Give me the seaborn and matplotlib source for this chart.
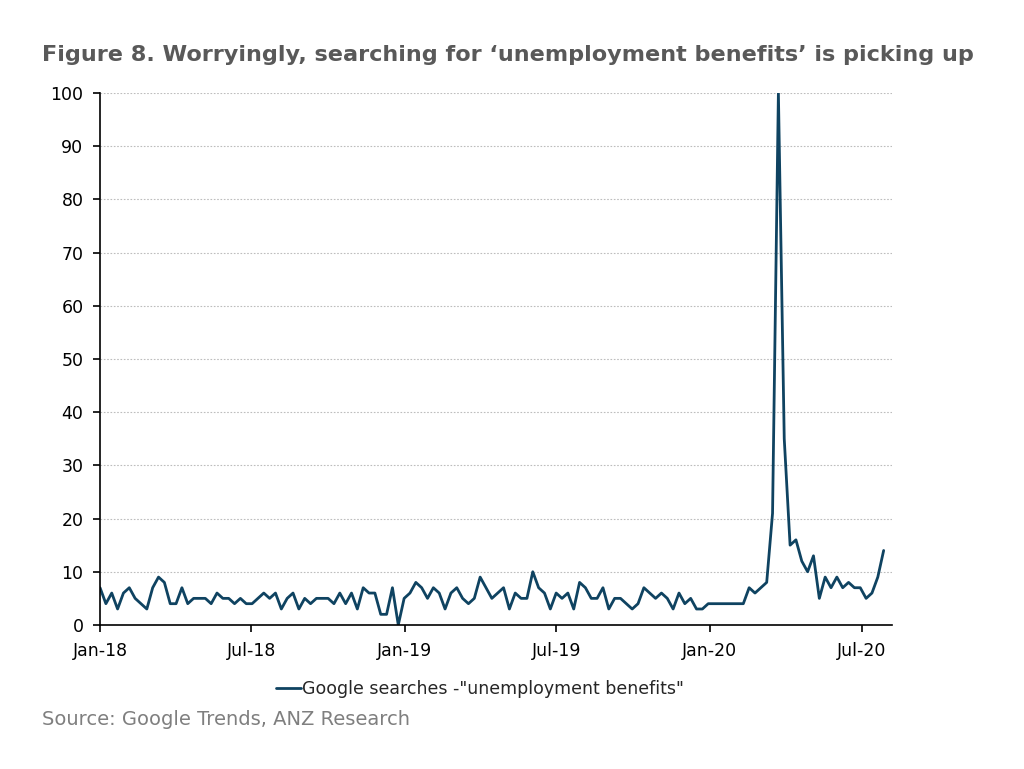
import pandas as pd
import numpy as np
import matplotlib
matplotlib.use("Agg")
import matplotlib.pyplot as plt
import seaborn as sns

# weekly Google Trends index, first week of Jan 2018 onwards
start_date = "2018-01-01"
searches_2018 = [7, 4, 6, 3, 6, 7, 5, 4, 3, 7, 9, 8, 4, 4, 7, 4, 5, 5, 5, 4,
                 6, 5, 5, 4, 5, 4, 4, 5, 6, 5, 6, 3, 5, 6, 3, 5, 4, 5, 5, 5,
                 4, 6, 4, 6, 3, 7, 6, 6, 2, 2, 7, 0]
searches_2019 = [5, 6, 8, 7, 5, 7, 6, 3, 6, 7, 5, 4, 5, 9, 7, 5, 6, 7, 3, 6,
                 5, 5, 10, 7, 6, 3, 6, 5, 6, 3, 8, 7, 5, 5, 7, 3, 5, 5, 4, 3,
                 4, 7, 6, 5, 6, 5, 3, 6, 4, 5, 3, 3]
searches_2020 = [4, 4, 4, 4, 4, 4, 4, 7, 6, 7, 8, 21, 100, 35, 15, 16, 12, 10,
                 13, 5, 9, 7, 9, 7, 8, 7, 7, 5, 6, 9, 14]

values = searches_2018 + searches_2019 + searches_2020
dates = pd.date_range(start_date, periods=len(values), freq="7D")
df = pd.DataFrame({"Date": dates, "Searches": values})

series_label = 'Google searches -"unemployment benefits"'
title = "Figure 8. Worryingly, searching for \u2018unemployment benefits\u2019 is picking up"
source = "Source: Google Trends, ANZ Research"
tick_dates = pd.to_datetime(["2018-01-01", "2018-07-01", "2019-01-01",
                             "2019-07-01", "2020-01-01", "2020-07-01"])
tick_labels = ["Jan-18", "Jul-18", "Jan-19", "Jul-19", "Jan-20", "Jul-20"]

sns.set_theme(style="white")
plt.rcParams["font.family"] = ["DejaVu Sans"]

fig = plt.figure(figsize=(10.24, 7.69), dpi=100)
ax = fig.add_axes([0.0977, 0.1873, 0.7734, 0.6918])

sns.lineplot(data=df, x="Date", y="Searches", ax=ax, color="#0f4361",
             linewidth=2.0, label=series_label)

ax.set_xlim(pd.Timestamp("2018-01-01"), pd.Timestamp("2020-08-06"))
ax.set_ylim(0, 100)
ax.set_yticks(range(0, 101, 10))
ax.set_xticks(tick_dates)
ax.set_xticklabels(tick_labels)
ax.set_xlabel("")
ax.set_ylabel("")

# dotted horizontal gridlines like the original
ax.yaxis.grid(True, linestyle=(0, (1.5, 1.5)), color="#bdbdbd", linewidth=0.8)
ax.xaxis.grid(False)
for s in ["top", "right"]:
    ax.spines[s].set_visible(False)
for s in ["left", "bottom"]:
    ax.spines[s].set_color("black")
    ax.spines[s].set_linewidth(1.2)
ax.tick_params(axis="both", which="major", direction="out", length=5,
               width=1.2, color="black", labelsize=12.5, labelcolor="black",
               bottom=True, left=True)
ax.tick_params(axis="y", pad=7)
ax.tick_params(axis="x", pad=7)

ax.legend(loc="upper center", bbox_to_anchor=(0.48, -0.075), frameon=False,
          fontsize=12.5, handlelength=1.4, handletextpad=0.1)

fig.text(0.041, 0.928, title, fontsize=16.1, fontweight="bold",
         color="#595959", ha="left", va="center")
fig.text(0.041, 0.064, source, fontsize=14, color="#7f7f7f",
         ha="left", va="center")

fig.savefig("out.png", dpi=100)
